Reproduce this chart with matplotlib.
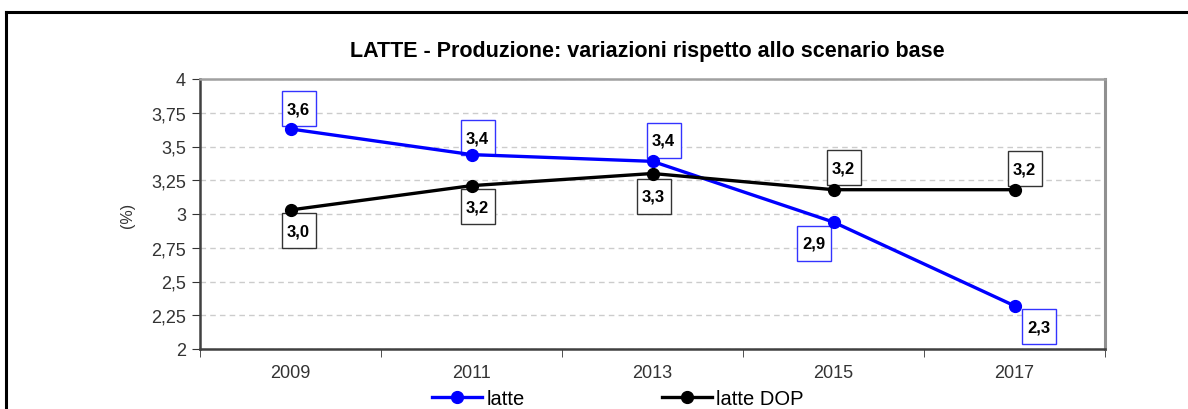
import matplotlib
matplotlib.use("Agg")
import matplotlib.pyplot as plt
from matplotlib.lines import Line2D
from matplotlib.patches import Rectangle
from matplotlib.transforms import ScaledTranslation

plt.rcParams['font.family'] = ['Liberation Sans', 'DejaVu Sans']

anni = ['2009', '2011', '2013', '2015', '2017']
latte = [3.63, 3.44, 3.39, 2.94, 2.32]
latte_dop = [3.03, 3.21, 3.30, 3.18, 3.18]

# spostamento etichette in pixel (dx, dy verso il basso)
off_latte = [(8, -20), (6, -17), (11, -21), (-20, 21), (24, 21)]
off_dop = [(8, 21), (6, 21), (1, 23), (10, -22), (10, -21)]

DPI = 100
fig = plt.figure(figsize=(11.88, 4.10), dpi=DPI, facecolor='w')
ax = fig.add_axes([200/1188, 1-350/410, 905/1188, 270/410])

x = list(range(len(anni)))
ax.plot(x, latte, '-o', color='#0000ff', lw=2.4, markersize=8.5, label='latte', zorder=5)
ax.plot(x, latte_dop, '-o', color='black', lw=2.4, markersize=8.5, label='latte DOP', zorder=5)

def etichetta(v):
  return f"{v:.1f}".replace('.', ',')

bw, bh = 34, 35  # box in pixel
for serie, offs, ec in [(latte, off_latte, '#3333ff'), (latte_dop, off_dop, '#333333')]:
  for i, v in enumerate(serie):
    dx, dy = offs[i]
    tr = fig.dpi_scale_trans + ScaledTranslation(x[i], v, ax.transData)
    ax.add_patch(Rectangle(((dx - bw/2)/DPI, (-dy - bh/2)/DPI), bw/DPI, bh/DPI,
                           transform=tr, fc='white', ec=ec, lw=1, zorder=4, clip_on=False))
    ax.annotate(etichetta(v), (x[i], v), xytext=(dx*0.72, -dy*0.72), textcoords='offset points',
                ha='center', va='center', fontsize=12, fontweight='bold', zorder=6)

ax.set_xlim(-0.5, len(anni)-0.5)
ax.set_ylim(2, 4)
ax.set_xticks(x)
ax.set_xticklabels(anni)
ax.set_xticks([i-0.5 for i in range(len(anni)+1)], minor=True)
ax.tick_params(axis='x', which='major', length=0, pad=11, labelsize=13, labelcolor='#333333')
ax.tick_params(axis='x', which='minor', length=6, direction='out', color='#333333')
ax.set_yticks([2, 2.25, 2.5, 2.75, 3, 3.25, 3.5, 3.75, 4])
ax.set_yticklabels(['2', '2,25', '2,5', '2,75', '3', '3,25', '3,5', '3,75', '4'])
ax.tick_params(axis='y', length=6, direction='out', pad=4, labelsize=13, labelcolor='#333333', color='#333333')
ax.grid(axis='y', ls=(0, (4, 3)), color='#cccccc', lw=1)
ax.set_axisbelow(True)
ax.set_ylabel('(%)', fontsize=11.5, color='#333333', labelpad=12)

ax.spines['left'].set_color('#404040')
ax.spines['bottom'].set_color('#404040')
ax.spines['left'].set_linewidth(1.8)
ax.spines['bottom'].set_linewidth(1.8)
ax.spines['top'].set_color('#a0a0a0')
ax.spines['right'].set_color('#909090')
ax.spines['top'].set_linewidth(1.8)
ax.spines['right'].set_linewidth(2.2)

fig.text(647/1188, 1-52/410, 'LATTE - Produzione: variazioni rispetto allo scenario base',
         ha='center', va='center', fontsize=15.5, fontweight='bold')

ax.legend(loc='center left', bbox_to_anchor=(432/1188, 1-400/410), bbox_transform=fig.transFigure,
          ncol=2, frameon=False, fontsize=14.5, handlelength=2.5, columnspacing=6.8,
          handletextpad=0.2, borderpad=0, borderaxespad=0)

# cornice esterna
fig.add_artist(Line2D([6/1188, 6/1188], [0, 1-13/410], color='black', lw=2.2, transform=fig.transFigure))
fig.add_artist(Line2D([6/1188, 1], [1-13/410, 1-13/410], color='black', lw=2.2, transform=fig.transFigure))

fig.savefig('out.png', dpi=DPI, facecolor='w')
